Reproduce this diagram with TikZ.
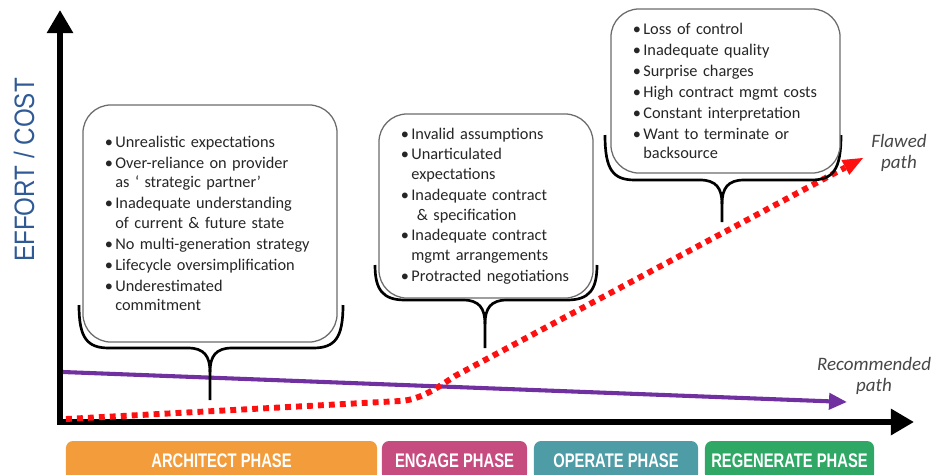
\documentclass[tikz,border=0pt]{standalone}
\usepackage{fontspec}
\setmainfont{Carlito}
\newfontfamily\phasefont[FakeStretch=0.75]{Liberation Sans}
\newfontfamily\axisfont[FakeStretch=0.86]{Liberation Sans}
\usetikzlibrary{arrows.meta}
\definecolor{OSAxisBlue}{HTML}{2F5A96}
\definecolor{OSPurple}{HTML}{7030A0}
\definecolor{OSRed}{HTML}{FF1010}
\definecolor{OSGrey}{HTML}{6B6B6B}
\definecolor{OSText}{HTML}{262626}
\definecolor{OSOrange}{HTML}{F29C3C}
\definecolor{OSPink}{HTML}{C64B7F}
\definecolor{OSTeal}{HTML}{4D9CA6}
\definecolor{OSGreen}{HTML}{2FA865}

\newcommand{\riskitem}{\makebox[2.6mm][l]{\textbullet}}
\newcommand{\riskcont}{\hspace*{2.6mm}}
% #1 left x, #2 right x, #3 end y, #4 bar y, #5 tip x, #6 tip y
\newcommand{\calloutbrace}[6]{%
  \draw[calloutline] (#1,#3) .. controls (#1,#4-10) and (#1+8,#4) .. (#1+30,#4)
    -- (#5-22,#4) .. controls (#5-6,#4) and (#5,#4+8) .. (#5,#4+24) -- (#5,#6);
  \draw[calloutline] (#2,#3) .. controls (#2,#4-10) and (#2-8,#4) .. (#2-30,#4)
    -- (#5+22,#4) .. controls (#5+6,#4) and (#5,#4+8) .. (#5,#4+24);
}

\begin{document}
\begin{tikzpicture}[x=0.025cm,y=-0.025cm,
    axis/.style={line width=4.3pt,draw=black,
      {Triangle[length=5.8mm,width=6.3mm]}-{Triangle[length=5.8mm,width=6.3mm]}},
    recpath/.style={line width=2.9pt,draw=OSPurple,-{Triangle[length=4.5mm,width=4mm]}},
    flawpath/.style={line width=4.2pt,draw=OSRed,dash pattern=on 4.2pt off 3.6pt,
      -{Triangle[length=5mm,width=4.2mm,line width=0pt,fill=OSRed]}},
    calloutline/.style={line width=1.9pt,draw=black},
    riskbox/.style={draw=OSGrey,line width=0.9pt,fill=white,rounded corners=0.7cm,
      inner xsep=0.55cm,inner ysep=0pt,align=left,text=OSText,
      font=\fontsize{11.6}{13.9}\selectfont},
    phase/.style={rounded corners=5pt,minimum height=1cm,inner sep=0pt,text=white,
      font=\phasefont\bfseries\fontsize{14}{16}\selectfont},
    pathlabel/.style={font=\itshape\fontsize{13.5}{15}\selectfont,text=OSText!85,align=center}
  ]
  \path[use as bounding box] (0,0) rectangle (937,474);
  \clip (0,0) rectangle (937,474);

  \node[phase,fill=OSOrange,minimum width=7.775cm] (architect) at (221.5,461) {ARCHITECT PHASE};
  \node[phase,fill=OSPink,minimum width=3.625cm] (engage) at (454.5,461) {ENGAGE PHASE};
  \node[phase,fill=OSTeal,minimum width=4.1cm] (operate) at (616,461) {OPERATE PHASE};
  \node[phase,fill=OSGreen,minimum width=4.225cm] (regenerate) at (789.5,461) {REGENERATE PHASE};

  \node[rotate=90,text=OSAxisBlue,font=\axisfont\fontsize{20}{22}\selectfont] (effort) at (24,170) {EFFORT / COST};

  \coordinate (ytip) at (60,10);
  \coordinate (origin) at (60,422);
  \coordinate (xtip) at (914,422);
  \draw[axis] (ytip) -- (origin) -- (xtip);

  \coordinate (recstart) at (63,372);
  \coordinate (recend) at (847,402);
  \draw[recpath] (recstart) -- (recend);

  \coordinate (flawstart) at (66,419);
  \coordinate (flawknee) at (400,401);
  \coordinate (flawrise) at (455,376);
  \coordinate (flawend) at (863,158);
  \draw[flawpath] (flawstart) -- (flawknee) .. controls (420,400) and (437,388) .. (flawrise) -- (flawend);

  \calloutbrace{79}{343}{305}{348}{210}{400}
  \calloutbrace{375}{597}{265}{300}{485}{348}
  \calloutbrace{605}{841}{135}{180}{722}{222}

  \node[riskbox,minimum width=6.35cm,minimum height=5.925cm,text width=5.25cm] (archrisk) at (210,223.5) {%
    \riskitem Unrealistic expectations\\[1pt]
    \riskitem Over-reliance on provider\\
    \riskcont as ‘ strategic partner’\\[1pt]
    \riskitem Inadequate understanding\\
    \riskcont of current \& future state\\[1pt]
    \riskitem No multi-generation strategy\\[1pt]
    \riskitem Lifecycle oversimplification\\[1pt]
    \riskitem Underestimated\\
    \riskcont commitment};
  \node[riskbox,minimum width=5.35cm,minimum height=4.6cm,text width=4.25cm] (engrisk) at (486,206) {%
    \riskitem Invalid assumptions\\[1pt]
    \riskitem Unarticulated\\
    \riskcont expectations\\[1pt]
    \riskitem Inadequate contract\\
    \riskcont\ \& specification\\[1pt]
    \riskitem Inadequate contract\\
    \riskcont mgmt arrangements\\[1pt]
    \riskitem Protracted negotiations};
  \node[riskbox,minimum width=5.725cm,minimum height=4.1cm,text width=4.625cm] (oprisk) at (725.5,91) {%
    \riskitem Loss of control\\[1pt]
    \riskitem Inadequate quality\\[1pt]
    \riskitem Surprise charges\\[1pt]
    \riskitem High contract mgmt costs\\[1pt]
    \riskitem Constant interpretation\\[1pt]
    \riskitem Want to terminate or\\
    \riskcont backsource};

  \node[pathlabel] (flawed) at (899,153) {Flawed\\path};
  \node[pathlabel] (recommended) at (874,376) {Recommended\\path};
\end{tikzpicture}
\end{document}
